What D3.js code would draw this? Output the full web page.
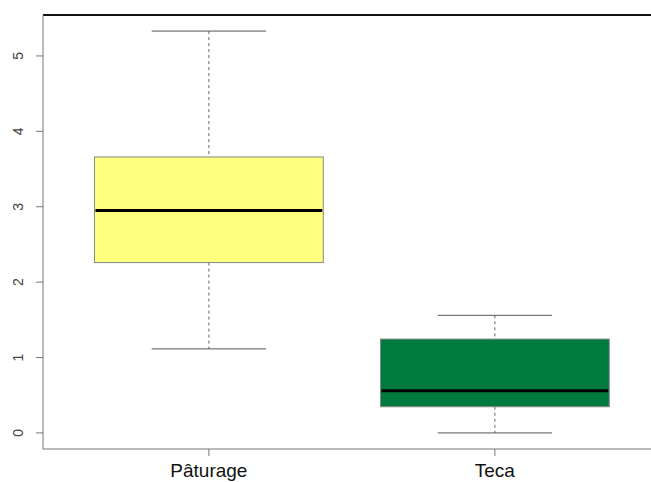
<!DOCTYPE html>
<html><head><meta charset="utf-8">
<script src="https://cdn.jsdelivr.net/npm/d3@7"></script>
<style>body{margin:0;background:#fff}svg{display:block}</style>
</head><body>
<script>
const categories = ["Pâturage", "Teca"];
const lowerWhisker = [1.115, 0.0];
const q1 = [2.26, 0.347];
const median = [2.95, 0.56];
const q3 = [3.66, 1.245];
const upperWhisker = [5.33, 1.56];
const fills = ["#FFFF80", "#007B3F"];
const yTicks = [0, 1, 2, 3, 4, 5];

(function () {
const W = 651, H = 482;
const mLeft = 43, mTop = 15, mBottom = 449;
const unit = 286;
const svg = d3.select("body").append("svg").attr("width", W).attr("height", H);

const x = d3.scaleLinear().domain([0.5 - 0.08, 2.5 + 0.08]).range([mLeft, mLeft + 2.16 * unit]);
const ymax = d3.max(upperWhisker), ymin = 0;
const pad = (ymax - ymin) * 0.04;
const y = d3.scaleLinear().domain([ymin - pad, ymax + pad]).range([mBottom, mTop]);

const data = categories.map((c, i) => ({c, i: i + 1, lo: lowerWhisker[i], q1: q1[i], med: median[i], q3: q3[i], hi: upperWhisker[i], fill: fills[i]}));

const g = svg.append("g");
data.forEach(d => {
  const cx = x(d.i);
  g.append("line").attr("x1", cx).attr("x2", cx).attr("y1", y(d.hi)).attr("y2", y(d.q3))
    .attr("stroke", "#666").attr("stroke-dasharray", "3,3");
  g.append("line").attr("x1", cx).attr("x2", cx).attr("y1", y(d.q1)).attr("y2", y(d.lo))
    .attr("stroke", "#666").attr("stroke-dasharray", "3,3");
  const cw = (x(d.i + 0.2) - x(d.i));
  g.append("line").attr("x1", cx - cw).attr("x2", cx + cw).attr("y1", y(d.hi)).attr("y2", y(d.hi))
    .attr("stroke", "#555");
  g.append("line").attr("x1", cx - cw).attr("x2", cx + cw).attr("y1", y(d.lo)).attr("y2", y(d.lo))
    .attr("stroke", "#555");
  const bw = x(d.i + 0.4) - x(d.i);
  g.append("rect").attr("x", cx - bw).attr("width", 2 * bw)
    .attr("y", y(d.q3)).attr("height", y(d.q1) - y(d.q3))
    .attr("fill", d.fill).attr("stroke", "#888").attr("stroke-width", 1);
  g.append("line").attr("x1", cx - bw + 1).attr("x2", cx + bw - 1).attr("y1", y(d.med)).attr("y2", y(d.med))
    .attr("stroke", "#000").attr("stroke-width", 3);
});

svg.append("line").attr("x1", mLeft).attr("x2", W).attr("y1", mTop).attr("y2", mTop).attr("stroke", "#111").attr("stroke-width", 2);
svg.append("line").attr("x1", mLeft).attr("x2", W).attr("y1", mBottom).attr("y2", mBottom).attr("stroke", "#777");
svg.append("line").attr("x1", mLeft).attr("x2", mLeft).attr("y1", mTop).attr("y2", mBottom).attr("stroke", "#777");

const yAxis = svg.append("g");
yTicks.forEach(t => {
  yAxis.append("line").attr("x1", mLeft - 7).attr("x2", mLeft).attr("y1", y(t)).attr("y2", y(t)).attr("stroke", "#777");
  yAxis.append("text").attr("transform", `translate(23,${y(t)}) rotate(-90)`)
    .attr("text-anchor", "middle").attr("font-family", "Liberation Sans, Arial, sans-serif")
    .attr("font-size", 14).attr("fill", "#444").text(t);
});
data.forEach(d => {
  svg.append("line").attr("x1", x(d.i)).attr("x2", x(d.i)).attr("y1", mBottom).attr("y2", mBottom + 7).attr("stroke", "#777");
  svg.append("text").attr("x", x(d.i)).attr("y", 477).attr("text-anchor", "middle")
    .attr("font-family", "Liberation Sans, Arial, sans-serif").attr("font-size", 19).attr("fill", "#111").text(d.c);
});
})();
</script>
</body></html>
